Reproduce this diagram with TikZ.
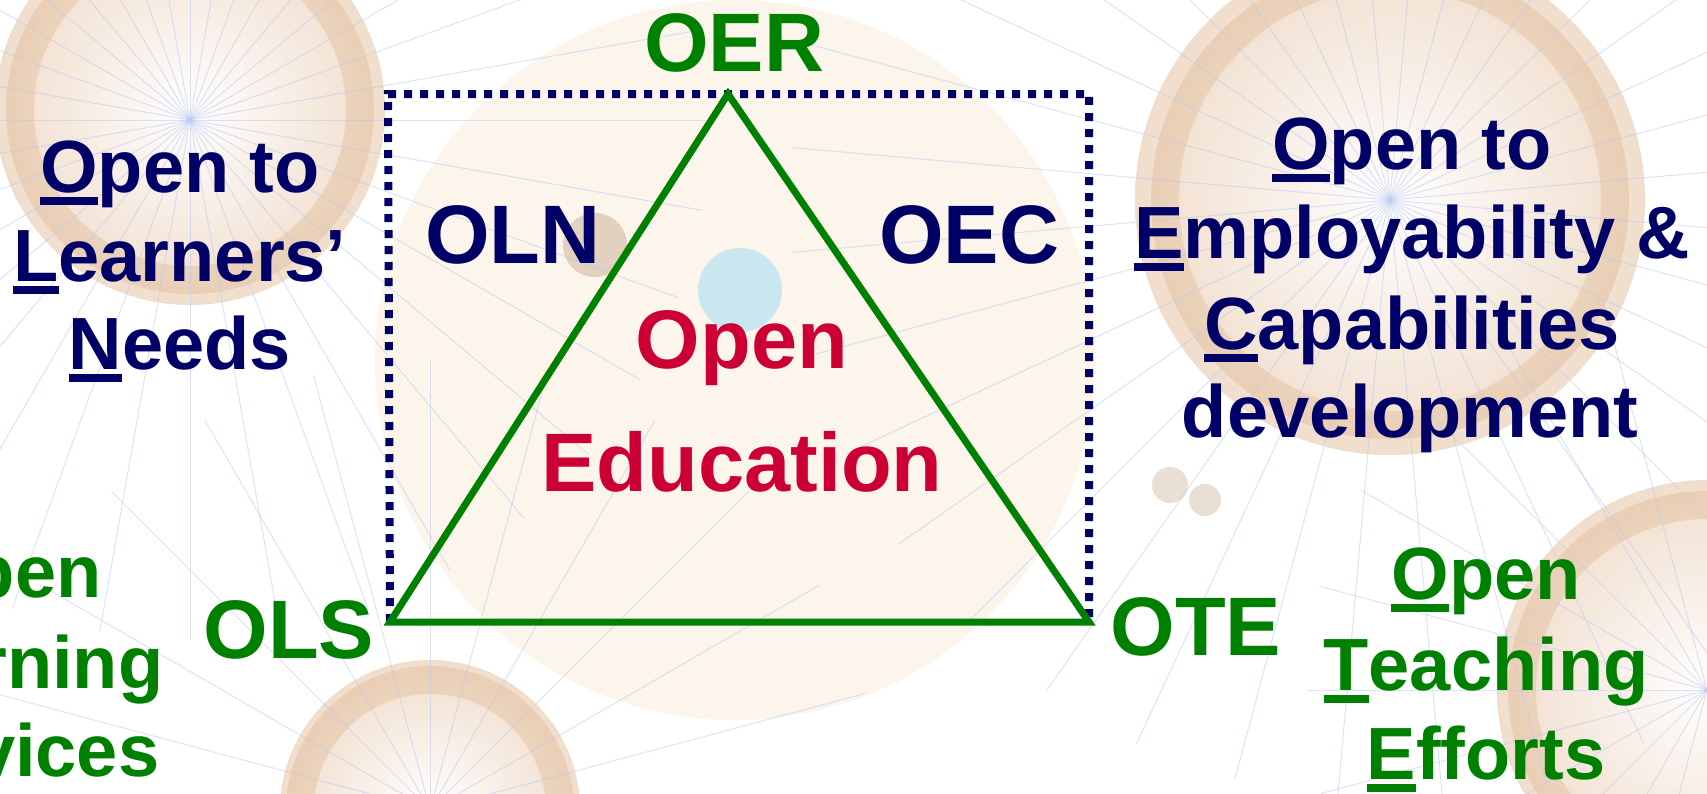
\documentclass[tikz,border=0pt]{standalone}
\usepackage{fontspec}
\setmainfont{Liberation Sans}
\definecolor{navy}{RGB}{0,0,102}
\definecolor{tgreen}{RGB}{0,128,0}
\definecolor{tred}{RGB}{204,0,51}
\definecolor{ring}{RGB}{214,160,110}
\definecolor{cream}{RGB}{250,242,228}
\definecolor{blin}{RGB}{185,200,240}
\newsavebox\ulbox
\newcommand\ulet[1]{\sbox\ulbox{#1}\rlap{\rule[-13pt]{\wd\ulbox}{8pt}}\usebox\ulbox}
\begin{document}
\begin{tikzpicture}[x=1pt,y=-1pt,
  acr/.style={inner sep=0pt, anchor=base, font=\fontsize{83}{90}\selectfont\bfseries},
  desc/.style={inner sep=0pt, anchor=base, font=\fontsize{74}{89}\selectfont\bfseries},
  eye/.style={inner color=white, outer color=ring, opacity=0.35},
  eyering/.style={draw=ring, opacity=0.25, line width=28pt},
  ray/.style={blin, opacity=0.5, line width=1pt},
  dotline/.style={navy, line width=8pt, dash pattern=on 8pt off 8pt},
  triline/.style={tgreen, line width=7pt}
]
\useasboundingbox (0,0) rectangle (1707,793);
\fill[white] (0,0) rectangle (1707,793);
\begin{scope}
\clip (0,0) rectangle (1707,793);
% pale globe in the middle
\fill[cream, opacity=0.7] (735,360) circle (360pt);
% eyes
\shade[eye] (190,110) circle (195pt);
\draw[eyering] (190,110) circle (170pt);
\shade[eye] (1390,200) circle (255pt);
\draw[eyering] (1390,200) circle (225pt);
\shade[eye] (1707,690) circle (210pt);
\draw[eyering] (1707,690) circle (185pt);
\shade[eye] (430,810) circle (150pt);
\draw[eyering] (430,810) circle (130pt);
% small balls
\fill[ring!80!black, opacity=0.3] (595,245) circle (32pt);
\fill[blue!30!cyan, opacity=0.2] (740,290) circle (42pt);
\fill[ring!80!black, opacity=0.25] (1170,485) circle (18pt);
\fill[ring!80!black, opacity=0.25] (1205,500) circle (16pt);
% rays
\foreach \a in {0,10,...,350} {
  \draw[ray] (190,120) -- ++(\a:520pt);
  \draw[ray] (1390,200) -- ++(\a+5:600pt);
}
\foreach \a in {0,15,...,345} {
  \draw[ray] (1707,690) -- ++(\a:400pt);
  \draw[ray] (430,810) -- ++(\a:450pt);
}
\end{scope}

% frame and triangle
\coordinate (A) at (728,94);
\coordinate (B) at (390,622);
\coordinate (C) at (1089,622);
\coordinate (TL) at (388,94);
\coordinate (TR) at (1089,94);
\draw[dotline] (B) -- (TL) -- (TR) -- (C);
\draw[triline] (A) -- (B) -- (C) -- cycle;

% acronyms
\node[acr, text=tgreen] (oer) at (734,71) {OER};
\node[acr, text=navy] (oln) at (513,263) {OLN};
\node[acr, text=navy] (oec) at (969,263) {OEC};
\node[acr, text=tgreen] (ols) at (289,658) {OLS};
\node[acr, text=tgreen] (ote) at (1196,655) {OTE};
\node[acr, text=tred] (oe1) at (742,368) {Open};
\node[acr, text=tred] (oe2) at (742,491) {Education};

% left top description
\node[desc, text=navy] (l1) at (180,192) {\ulet{O}pen to};
\node[desc, text=navy] (l2) at (180,281) {\ulet{L}earners’};
\node[desc, text=navy] (l3) at (180,369) {\ulet{N}eeds};

% right top description
\node[desc, text=navy] (r1) at (1412,169) {\ulet{O}pen to};
\node[desc, text=navy] (r2) at (1412,258) {\ulet{E}mployability \&};
\node[desc, text=navy] (r3) at (1412,349) {\ulet{C}apabilities};
\node[desc, text=navy] (r4) at (1410,437) {development};

% bottom left description (cut by the left edge, as in the picture)
\node[desc, text=tgreen] (s1) at (7,597) {\ulet{O}pen};
\node[desc, text=tgreen] (s2) at (7,688) {\ulet{L}earning};
\node[desc, text=tgreen] (s3) at (7,776) {\ulet{S}ervices};

% bottom right description
\node[desc, text=tgreen] (t1) at (1486,599) {\ulet{O}pen};
\node[desc, text=tgreen] (t2) at (1486,690) {\ulet{T}eaching};
\node[desc, text=tgreen] (t3) at (1486,779) {\ulet{E}fforts};
\end{tikzpicture}
\end{document}
